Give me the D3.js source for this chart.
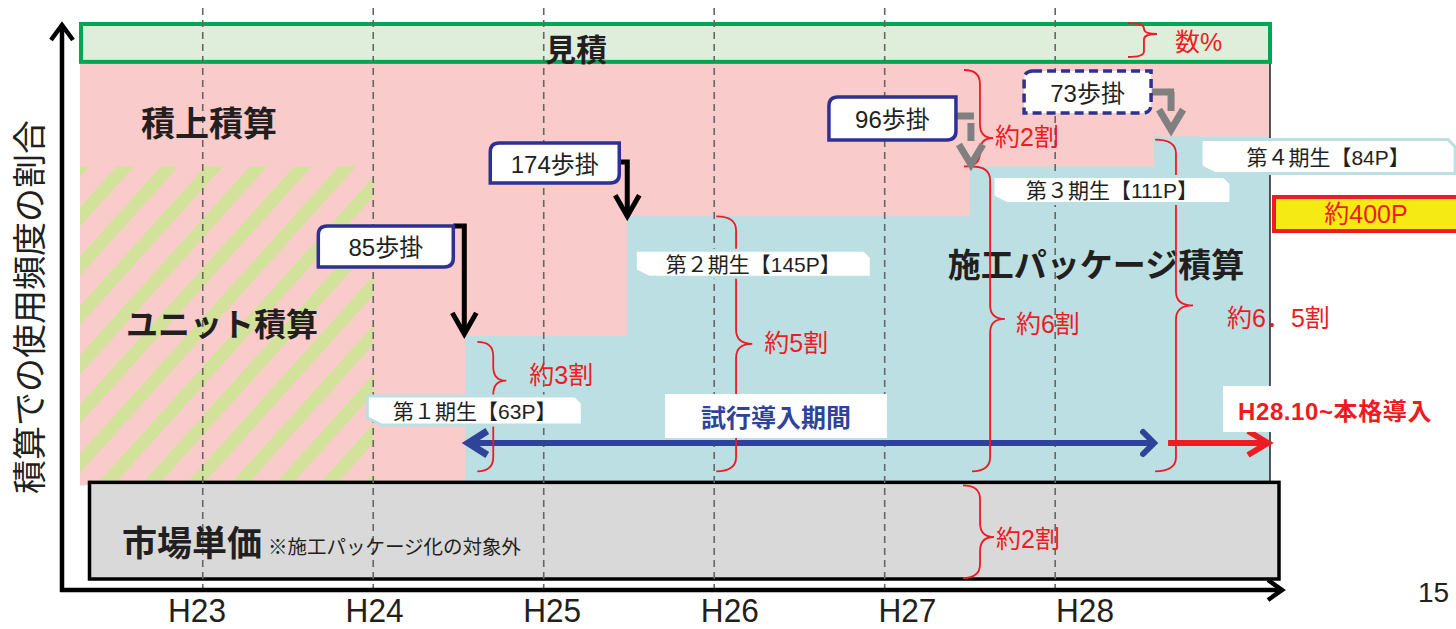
<!DOCTYPE html>
<html>
<head>
<meta charset="utf-8">
<script src="https://cdn.jsdelivr.net/npm/d3@7"></script>
<style>
body { margin: 0; background: #fff; overflow: hidden; }
svg { display: block; }
text { font-family: "Liberation Sans", Arial, "Noto Sans CJK JP", sans-serif; fill: #231f20; }
.jp { font-family: "Noto Sans CJK JP", sans-serif; }
</style>
</head>
<body>
<svg id="chart" width="1456" height="629"></svg>
<script>
// years on the x axis
var years = [23, 24, 25, 26, 27, 28]
var yearLabels = ["H23", "H24", "H25", "H26", "H27", "H28"]

// 施工パッケージ cohorts
var cohorts = ["第１期生【63P】", "第２期生【145P】", "第３期生【111P】", "第４期生【84P】"]
var cohortStart = [24.54, 25.49, 27.5, 28.58]      // where each step begins (fiscal year)
var packageShare = [30, 54, 64, 70]                // drawn share of 施工パッケージ (% of axis)
var shareLabels = ["約3割", "約5割", "約6割", "約6．5割"]
var bukake = ["85歩掛", "174歩掛", "96歩掛", "73歩掛"]

// bands, in % of the axis
var marketTop = 20, stackBase = 19, unitTop = 83, tsumiageTop = 104, mitsumoriTop = 112
var fullStart = 28.58, chartEnd = 29.26

var svg = d3.select("#chart")
var x = d3.scaleLinear().domain([22.28, chartEnd]).range([80, 1270])
var y = d3.scaleLinear().domain([0, mitsumoriTop]).range([580, 22])
var xLab = d3.scaleLinear().domain([23, 28]).range([197, 1085])

var red = "#ed1c24", navy = "#2e3192"

var defs = svg.append("defs")
var pat = defs.append("pattern")
	.attr("id", "hatch")
	.attr("patternUnits", "userSpaceOnUse")
	.attr("width", 33).attr("height", 33)
	.attr("patternTransform", "rotate(42)")
pat.append("rect").attr("width", 13).attr("height", 33).attr("fill", "#d3e29b")

// 積上 area
svg.append("rect")
	.attr("x", x(22.28)).attr("y", y(tsumiageTop))
	.attr("width", x(chartEnd) - x(22.28))
	.attr("height", y(stackBase) - y(tsumiageTop))
	.attr("fill", "#f9cbcb")

// ユニット積算 hatch
svg.append("rect")
	.attr("x", x(22.28)).attr("y", y(unitTop))
	.attr("width", x(24) - x(22.28))
	.attr("height", y(stackBase) - y(unitTop))
	.attr("fill", "url(#hatch)")

// 施工パッケージ steps
var steps = cohortStart.map(function(s, i) { return {t: s, v: stackBase + packageShare[i]} })
steps.push({t: chartEnd, v: steps[steps.length - 1].v})
var area = d3.area()
	.x(function(d) { return x(d.t) })
	.y0(y(stackBase))
	.y1(function(d) { return y(d.v) })
	.curve(d3.curveStepAfter)
svg.append("path").datum(steps).attr("d", area).attr("fill", "#bcdfe3")

svg.append("line")
	.attr("x1", x(chartEnd)).attr("x2", x(chartEnd))
	.attr("y1", y(tsumiageTop)).attr("y2", y(stackBase))
	.attr("stroke", "#222").attr("stroke-width", 1.5)

// 見積 band
svg.append("rect")
	.attr("x", x(22.28) + 1).attr("y", y(mitsumoriTop) + 2)
	.attr("width", x(chartEnd) - x(22.28) - 1)
	.attr("height", y(tsumiageTop) - y(mitsumoriTop) - 2)
	.attr("fill", "#dfeeda").attr("stroke", "#00a651").attr("stroke-width", 4)

// 市場単価 box
svg.append("rect")
	.attr("x", 89.5).attr("y", y(marketTop) + 2)
	.attr("width", 1189.5).attr("height", y(0) - y(marketTop) - 3)
	.attr("fill", "#d9d9d9").attr("stroke", "#000").attr("stroke-width", 3.5)

// dashed year lines
svg.selectAll(".grid")
	.data(years)
	.enter().append("line")
	.attr("class", "grid")
	.attr("x1", function(d) { return x(d) }).attr("x2", function(d) { return x(d) })
	.attr("y1", 8).attr("y2", 590)
	.attr("stroke", "#666").attr("stroke-width", 1.6).attr("stroke-dasharray", "7,5")

// axes
var axisG = svg.append("g").attr("fill", "none").attr("stroke", "#000").attr("stroke-width", 4.5)
axisG.append("path").attr("d", "M62,592V27")
axisG.append("path").attr("d", "M51,40L62,25L73,40")
axisG.append("path").attr("d", "M60,590H1280")
axisG.append("path").attr("d", "M1268,580L1282,590L1268,600")

svg.selectAll(".tick")
	.data(yearLabels)
	.enter().append("text")
	.attr("class", "tick")
	.attr("transform", function(d, i) { return "translate(" + xLab(years[i]) + ",622) scale(0.93,1)" })
	.attr("text-anchor", "middle")
	.style("font-size", "34px")
	.text(function(d) { return d })

svg.append("text")
	.attr("class", "jp")
	.attr("transform", "translate(42,307) rotate(-90)")
	.attr("text-anchor", "middle")
	.style("font-size", "34px")
	.text("積算での使用頻度の割合")

// category names
var names = [
	{t: "見積", x: 576, y: 47, s: 31},
	{t: "積上積算", x: 209, y: 121, s: 34},
	{t: "ユニット積算", x: 222, y: 322, s: 32},
	{t: "施工パッケージ積算", x: 1096, y: 263, s: 33}
]
svg.selectAll(".name")
	.data(names)
	.enter().append("text")
	.attr("class", "name jp")
	.attr("x", function(d) { return d.x }).attr("y", function(d) { return d.y })
	.attr("text-anchor", "middle").attr("dominant-baseline", "central")
	.style("font-size", function(d) { return d.s + "px" })
	.style("font-weight", "bold")
	.text(function(d) { return d.t })

svg.append("text").attr("class", "jp")
	.attr("x", 122).attr("y", 540).attr("dominant-baseline", "central")
	.style("font-size", "35px").style("font-weight", "bold")
	.text("市場単価")
svg.append("text").attr("class", "jp")
	.attr("x", 268).attr("y", 545).attr("dominant-baseline", "central")
	.style("font-size", "19.5px")
	.text("※施工パッケージ化の対象外")

// trial period arrow + full introduction arrow
var yArrow = 443
svg.append("path")
	.attr("d", "M" + (x(cohortStart[0]) + 4) + "," + yArrow + "H" + (x(fullStart) - 2))
	.attr("stroke", "#2f4399").attr("stroke-width", 6).attr("fill", "none")
svg.append("path")
	.attr("d", "M" + (x(cohortStart[0]) + 22) + "," + (yArrow - 12) + "L" + (x(cohortStart[0]) + 3) + "," + yArrow + "L" + (x(cohortStart[0]) + 22) + "," + (yArrow + 12))
	.attr("stroke", "#2f4399").attr("stroke-width", 7).attr("fill", "none")
svg.append("path")
	.attr("d", "M" + (x(fullStart) - 11) + "," + (yArrow - 11) + "L" + x(fullStart) + "," + yArrow + "L" + (x(fullStart) - 11) + "," + (yArrow + 11))
	.attr("stroke", "#2f4399").attr("stroke-width", 6).attr("stroke-linecap", "round").attr("fill", "none")
svg.append("path")
	.attr("d", "M" + (x(fullStart) + 14) + "," + yArrow + "H" + (x(chartEnd) - 4))
	.attr("stroke", red).attr("stroke-width", 6).attr("fill", "none")
svg.append("path")
	.attr("d", "M" + (x(chartEnd) - 22) + "," + (yArrow - 12) + "L" + (x(chartEnd) - 2) + "," + yArrow + "L" + (x(chartEnd) - 22) + "," + (yArrow + 12))
	.attr("stroke", red).attr("stroke-width", 6).attr("fill", "none")

// braces
function brace(x0, top, bot, tip, w) {
	var xm = x0 + w * 0.55
	var r = Math.min(14, (tip - top) / 2, (bot - tip) / 2)
	return "M" + x0 + "," + top + "Q" + xm + "," + top + " " + xm + "," + (top + r) +
		"L" + xm + "," + (tip - r) + "Q" + xm + "," + tip + " " + (x0 + w) + "," + tip +
		"Q" + xm + "," + tip + " " + xm + "," + (tip + r) +
		"L" + xm + "," + (bot - r) + "Q" + xm + "," + bot + " " + x0 + "," + bot
}
var braceDx = [12, 89, 2, 1], braceDy = [6, 0, 0, 3], braceW = [29, 36, 33, 38]
var tipFrac = [0.3, 0.5, 0.5, 0.5], textDx = [23, 12, 11, 34], textY = [375, 343, 324, 318]
var braces = cohortStart.map(function(s, i) {
	var top = y(stackBase + packageShare[i]) + braceDy[i], bot = y(stackBase) - 14
	var tip = top + (bot - top) * tipFrac[i]
	return {x0: x(s) + braceDx[i], top: top, bot: bot, tip: tip, w: braceW[i],
		label: shareLabels[i], tx: x(s) + braceDx[i] + braceW[i] + textDx[i], ty: textY[i]}
})
braces.push({x0: 1128, top: 23, bot: 57, tip: 34, w: 29, label: "数%", tx: 1175, ty: 42})
braces.push({x0: 964, top: 70, bot: y(unitTop), tip: 138, w: 29, label: "約2割", tx: 995, ty: 137})
braces.push({x0: 963, top: y(stackBase), bot: y(0) - 2, tip: 537, w: 31, label: "約2割", tx: 996, ty: 539})

svg.selectAll(".brace")
	.data(braces)
	.enter().append("path")
	.attr("class", "brace")
	.attr("d", function(d) { return brace(d.x0, d.top, d.bot, d.tip, d.w) })
	.attr("fill", "none").attr("stroke", red).attr("stroke-width", 1.8)
svg.selectAll(".braceText")
	.data(braces)
	.enter().append("text")
	.attr("class", "braceText")
	.attr("x", function(d) { return d.tx }).attr("y", function(d) { return d.ty })
	.attr("dominant-baseline", "central")
	.style("font-size", "25px").style("fill", red)
	.text(function(d) { return d.label })

// cohort tab labels
var tabDx = [-98, 8, 23, 47], tabDy = [60, 34, 10, 3], tabW = [215, 236, 238, 254], tabH = [29, 27, 27, 34]
function tabPath(L, T, R, B, c) {
	return "M" + L + "," + T + "H" + (R - c) + "L" + R + "," + (T + c) + "V" + B +
		"H" + (L + 2 * c) + "L" + L + "," + (B - c) + "Z"
}
var tabs = svg.selectAll(".tab")
	.data(cohorts)
	.enter().append("g")
	.attr("class", "tab")
	.attr("transform", function(d, i) {
		return "translate(" + (x(cohortStart[i]) + tabDx[i]) + "," + (y(stackBase + packageShare[i]) + tabDy[i]) + ")"
	})
tabs.append("path")
	.attr("d", function(d, i) { return tabPath(0, 0, tabW[i], tabH[i], 7) })
	.attr("fill", "#fff").attr("stroke", "#bcdfe3").attr("stroke-width", 3)
tabs.append("text")
	.attr("x", function(d, i) { return tabW[i] / 2 })
	.attr("y", function(d, i) { return tabH[i] / 2 + 1 })
	.attr("text-anchor", "middle").attr("dominant-baseline", "central")
	.style("font-size", "21px")
	.text(function(d) { return d })

// 歩掛 boxes and arrows
var boxRightDx = [-12, -8, -14, -3], boxTop = [226, 143, 97, 71], boxW = [135, 129, 127, 127], boxH = [41, 40, 43, 42]
function boxPath(L, T, w, h, r) {
	return "M" + (L + r) + "," + T + "H" + (L + w) + "V" + (T + h - r) +
		"Q" + (L + w) + "," + (T + h) + " " + (L + w - r) + "," + (T + h) +
		"H" + L + "V" + (T + r) + "Q" + L + "," + T + " " + (L + r) + "," + T + "Z"
}
var boxes = bukake.map(function(b, i) {
	var right = x(cohortStart[i]) + boxRightDx[i]
	return {label: b, L: right - boxW[i], T: boxTop[i], w: boxW[i], h: boxH[i], dashed: i == 3}
})

// black arrows (85, 174)
var blackArrows = [
	{hx: boxes[0].L + boxes[0].w, hy: boxTop[0], ax: x(cohortStart[0]) - 1, tip: y(stackBase + packageShare[0]) - 2},
	{hx: boxes[1].L + boxes[1].w, hy: boxTop[1] + 19, ax: x(cohortStart[1]), tip: y(stackBase + packageShare[1])}
]
blackArrows.forEach(function(a) {
	svg.append("path")
		.attr("d", "M" + a.hx + "," + a.hy + "H" + (a.ax + 2.5) + "M" + a.ax + "," + a.hy + "V" + (a.tip - 2))
		.attr("stroke", "#000").attr("stroke-width", 5).attr("fill", "none")
	svg.append("path")
		.attr("d", "M" + (a.ax - 12) + "," + (a.tip - 21) + "L" + a.ax + "," + a.tip + "L" + (a.ax + 12) + "," + (a.tip - 21))
		.attr("stroke", "#000").attr("stroke-width", 5).attr("fill", "none")
})

// gray arrows (96, 73)
var grayArrows = [
	{hx: boxes[2].L + boxes[2].w, hy: boxTop[2] + 19, ax: x(cohortStart[2]) + 1, vy0: 123, vy1: 141, tip: y(stackBase + packageShare[2])},
	{hx: boxes[3].L + boxes[3].w + 1, hy: boxTop[3] + 21, ax: x(cohortStart[3]) + 17, vy0: 92, vy1: 111, tip: y(stackBase + packageShare[3]) - 5}
]
grayArrows.forEach(function(a) {
	svg.append("path")
		.attr("d", "M" + a.hx + "," + a.hy + "H" + (a.ax + 3) + "M" + a.ax + "," + a.vy0 + "V" + a.vy1)
		.attr("stroke", "#808080").attr("stroke-width", 7).attr("fill", "none")
	svg.append("path")
		.attr("d", "M" + (a.ax - 12) + "," + (a.tip - 22) + "L" + a.ax + "," + (a.tip - 2) + "L" + (a.ax + 12) + "," + (a.tip - 22))
		.attr("stroke", "#808080").attr("stroke-width", 7).attr("fill", "none")
})

var boxG = svg.selectAll(".box")
	.data(boxes)
	.enter().append("g")
	.attr("class", "box")
boxG.append("path")
	.attr("d", function(d) { return boxPath(d.L, d.T, d.w, d.h, 9) })
	.attr("fill", "#fff").attr("stroke", navy).attr("stroke-width", 3.5)
	.attr("stroke-dasharray", function(d) { return d.dashed ? "9,5" : null })
boxG.append("text")
	.attr("x", function(d) { return d.L + d.w / 2 })
	.attr("y", function(d) { return d.T + d.h / 2 + 1 })
	.attr("text-anchor", "middle").attr("dominant-baseline", "central")
	.style("font-size", "24px")
	.text(function(d) { return d.label })

// 試行導入期間
svg.append("rect").attr("x", 665).attr("y", 394).attr("width", 222).attr("height", 44).attr("fill", "#fff")
svg.append("text").attr("class", "jp")
	.attr("x", 776).attr("y", 416).attr("text-anchor", "middle").attr("dominant-baseline", "central")
	.style("font-size", "25px").style("font-weight", "bold").style("fill", "#2f4399")
	.text("試行導入期間")

// 本格導入
svg.append("rect").attr("x", 1223).attr("y", 386).attr("width", 240).attr("height", 46).attr("fill", "#fff")
svg.append("text")
	.attr("x", 1238).attr("y", 411).attr("dominant-baseline", "central")
	.style("font-size", "24px").style("font-weight", "bold").style("fill", red)
	.style("letter-spacing", "0.6px")
	.text("H28.10~本格導入")

// 約400P
svg.append("rect").attr("x", 1274).attr("y", 197).attr("width", 200).attr("height", 34)
	.attr("fill", "#f5ea14").attr("stroke", red).attr("stroke-width", 4)
svg.append("text")
	.attr("x", 1366).attr("y", 214).attr("text-anchor", "middle").attr("dominant-baseline", "central")
	.style("font-size", "25px").style("fill", red)
	.text("約400P")

// page number
svg.append("text").attr("x", 1418).attr("y", 602).style("font-size", "28px").text("15")
</script>
</body>
</html>
